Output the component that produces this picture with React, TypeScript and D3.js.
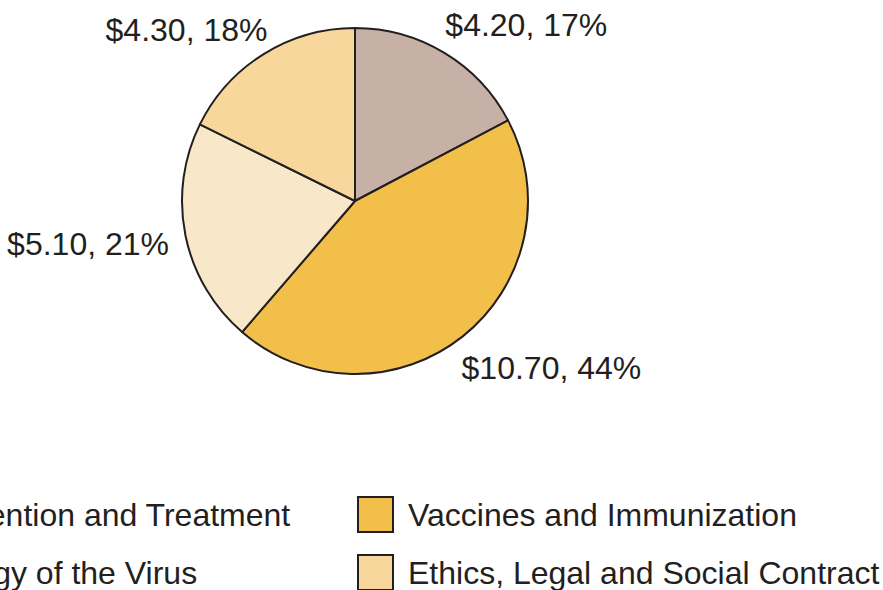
import React from "react";
import * as d3 from "d3";

const categories = [
  "Prevention and Treatment",
  "Vaccines and Immunization",
  "Biology of the Virus",
  "Ethics, Legal and Social Contract",
];
const amounts = [4.2, 10.7, 5.1, 4.3];
const percents = [17, 44, 21, 18];
const colors = ["#c7b0a5", "#f3bf4b", "#f9e7ca", "#f7d79c"];

// label nudges relative to the radial anchor point
const labelNudge: [number, number][] = [
  [-13, -5],
  [-18, 10],
  [10, 3],
  [18, -1],
];

const W = 883;
const H = 590;
const cx = 355;
const cy = 201;
const R = 173;
const ink = "#231f20";
const font = "'Liberation Sans', Arial, Helvetica, sans-serif";

const App = () => {
  const pie = d3
    .pie<number>()
    .sort(null)
    .value((d) => d);
  const arcs = pie(amounts);
  const arc = d3.arc<d3.PieArcDatum<number>>().innerRadius(0).outerRadius(R);
  const labelArc = d3
    .arc<d3.PieArcDatum<number>>()
    .innerRadius(R + 27)
    .outerRadius(R + 27);

  // legend is wider than the frame, left column is partly cut off
  const legendX = d3.scalePoint<number>().domain([0, 1]).range([-128, 358]);
  const legendY = d3.scalePoint<number>().domain([0, 1]).range([497, 555]);

  return (
    <svg
      width={W}
      height={H}
      style={{ position: "absolute", left: 0, top: 0, background: "#fff" }}
      fontFamily={font}
    >
      <g transform={`translate(${cx},${cy})`}>
        {arcs.map((a, i) => (
          <path
            key={i}
            d={arc(a) || ""}
            fill={colors[i]}
            stroke={ink}
            strokeWidth={2}
            strokeLinejoin="round"
          />
        ))}
        {arcs.map((a, i) => {
          const [x, y] = labelArc.centroid(a);
          const mid = (a.startAngle + a.endAngle) / 2;
          const right = Math.sin(mid) >= 0;
          return (
            <text
              key={i}
              x={x + labelNudge[i][0]}
              y={y + labelNudge[i][1]}
              dy="0.35em"
              textAnchor={right ? "start" : "end"}
              fontSize={32}
              fill={ink}
            >
              {`$${amounts[i].toFixed(2)}, ${percents[i]}%`}
            </text>
          );
        })}
      </g>
      {categories.map((c, i) => {
        const col = i % 2;
        const row = Math.floor(i / 2);
        const x = legendX(col) as number;
        const y = legendY(row) as number;
        return (
          <g key={c} transform={`translate(${x},${y})`}>
            <rect width={35} height={35} fill={colors[i]} stroke={ink} strokeWidth={2} />
            <text x={50} y={17.5} dy="0.35em" fontSize={32} fill={ink}>
              {c}
            </text>
          </g>
        );
      })}
    </svg>
  );
};

export default App;
